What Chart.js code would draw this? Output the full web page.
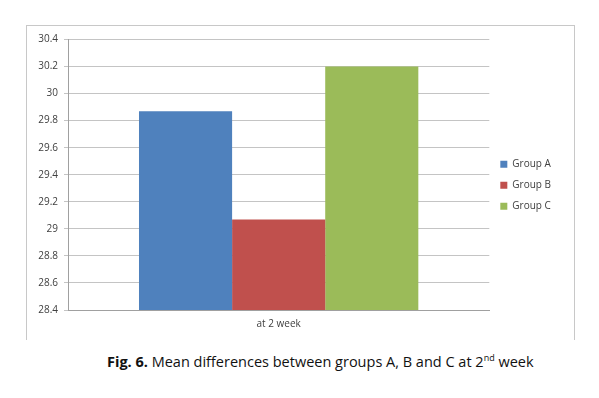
<!DOCTYPE html>
<html>
<head>
<meta charset="utf-8">
<script src="https://cdn.jsdelivr.net/npm/chart.js@4/dist/chart.umd.min.js"></script>
<style>
  body { margin: 0; background: #fff; width: 599px; height: 398px; position: relative; font-family: "Open Sans", sans-serif; }
  #box { position: absolute; left: 26px; top: 25px; width: 547px; height: 314px; border: 1px solid #c8c8c8; border-bottom: none; }
  #box canvas { display: block; }
  #caption { position: absolute; left: 107px; top: 351px; white-space: nowrap; font-size: 14.5px; color: #111; }
  #caption sup { font-size: 9px; }
</style>
</head>
<body>
<div id="box"><canvas id="chart" width="547" height="314"></canvas></div>
<div id="caption"><b>Fig. 6.</b> Mean differences between groups A, B and C at 2<sup>nd</sup> week</div>
<script>
// data
const categories = ["at 2 week"];
const seriesNames = ["Group A", "Group B", "Group C"];
const groupA = [29.87];
const groupB = [29.07];
const groupC = [30.2];
const yTicks = [28.4, 28.6, 28.8, 29, 29.2, 29.4, 29.6, 29.8, 30, 30.2, 30.4];

const colors = ["#4f81bd", "#c0504d", "#9bbb59"];
const values = [groupA, groupB, groupC];

const ctx = document.getElementById("chart").getContext("2d");
new Chart(ctx, {
  type: "bar",
  data: {
    labels: categories,
    datasets: seriesNames.map((name, i) => ({
      label: name,
      data: values[i],
      backgroundColor: colors[i],
      borderWidth: 0,
      categoryPercentage: 0.663,
      barPercentage: 1
    }))
  },
  options: {
    responsive: false,
    animation: false,
    layout: { padding: { top: 13.5, right: 13, bottom: 9, left: 0 } },
    plugins: {
      legend: {
        position: "right",
        align: "center",
        labels: {
          boxWidth: 7,
          boxHeight: 7,
          padding: 11,
          color: "#404040",
          font: { family: "Open Sans", size: 10 }
        }
      },
      tooltip: { enabled: false }
    },
    scales: {
      x: {
        afterFit: s => { s.height = 21; },
        grid: { display: false, drawTicks: false, tickLength: 0 },
        border: { color: "#a0a0a0" },
        ticks: { color: "#404040", font: { family: "Open Sans", size: 10 }, padding: 8 }
      },
      y: {
        min: 28.4,
        max: 30.4,
        afterFit: s => { s.width = 41; },
        afterBuildTicks: s => { s.ticks = yTicks.map(v => ({ value: v })); },
        grid: { color: "#c4c4c4", tickLength: 4, drawTicks: true },
        border: { color: "#a0a0a0" },
        ticks: {
          color: "#404040",
          font: { family: "Open Sans", size: 10 },
          padding: 6,
          callback: v => String(Math.round(v * 10) / 10)
        }
      }
    }
  }
});
</script>
</body>
</html>
